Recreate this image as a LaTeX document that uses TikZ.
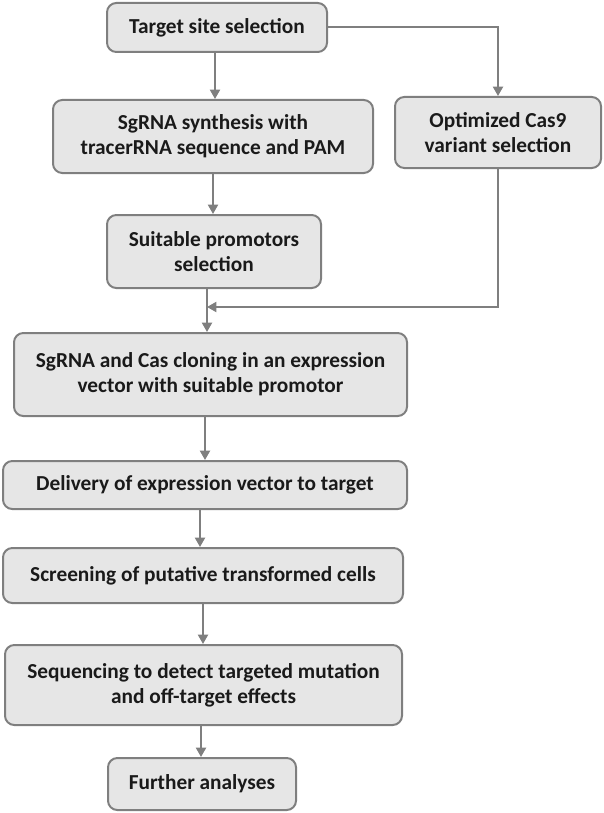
\documentclass[tikz,border=0pt]{standalone}
\usepackage{fontspec}
\setmainfont{Carlito}
\usetikzlibrary{arrows.meta}
\definecolor{boxfill}{HTML}{E6E6E6}
\definecolor{boxline}{HTML}{7F7F7F}
\definecolor{arrline}{HTML}{7F7F7F}
\definecolor{txt}{HTML}{1A1A1A}
\tikzset{
  stepbox/.style={draw=boxline, fill=boxfill, line width=1.5pt, rounded corners=7pt,
    inner sep=0pt, align=center, text=txt,
    font=\fontsize{16pt}{18.8pt}\selectfont\bfseries},
  arr/.style={draw=arrline, line width=1.5pt, -{Triangle[width=7.5pt,length=7pt]}},
  ln/.style={draw=arrline, line width=1.5pt}
}
\begin{document}
\begin{tikzpicture}[x=0.75pt,y=-0.75pt]
\useasboundingbox (0,0) rectangle (603,813);
\node[stepbox, minimum width=165pt, minimum height=36.75pt] (b1) at (217,27.5) {Target site selection};
\node[stepbox, minimum width=240pt, minimum height=54.75pt] (b2) at (213,136.5) {SgRNA synthesis with\\tracerRNA sequence and PAM};
\node[stepbox, minimum width=154.5pt, minimum height=53.25pt] (opt) at (498,132.5) {Optimized Cas9\\variant selection};
\node[stepbox, minimum width=160.5pt, minimum height=54.75pt] (b3) at (214,251.5) {Suitable promotors\\selection};
\node[stepbox, minimum width=294.75pt, minimum height=62.25pt] (b4) at (210.5,374.5) {SgRNA and Cas cloning in an expression\\vector with suitable promotor};
\node[stepbox, minimum width=303pt, minimum height=36pt] (b5) at (205,485) {Delivery of expression vector to target};
\node[stepbox, minimum width=300pt, minimum height=41.25pt] (b6) at (203,575.5) {Screening of putative transformed cells};
\node[stepbox, minimum width=297.75pt, minimum height=60pt] (b7) at (203.5,685) {Sequencing to detect targeted mutation\\and off-target effects};
\node[stepbox, minimum width=141pt, minimum height=39pt] (b8) at (202,784) {Further analyses};

\coordinate (x215) at (215,0);
\coordinate (x213) at (213,0);
\coordinate (x207) at (207,0);
\coordinate (x205) at (205,0);
\coordinate (x200) at (200,0);
\coordinate (x203) at (203,0);
\coordinate (x201) at (201,0);
\coordinate (merge) at (207,307);

\draw[arr] (b1.south -| x215) -- (b2.north -| x215);
\draw[arr] (b1.east) -| (opt.north);
\draw[arr] (b2.south -| x213) -- (b3.north -| x213);
\draw[arr] (b3.south -| x207) -- (b4.north -| x207);
\draw[arr] (opt.south) |- (merge);
\draw[arr] (b4.south -| x205) -- (b5.north -| x205);
\draw[arr] (b5.south -| x200) -- (b6.north -| x200);
\draw[arr] (b6.south -| x203) -- (b7.north -| x203);
\draw[arr] (b7.south -| x201) -- (b8.north -| x201);
\end{tikzpicture}
\end{document}
